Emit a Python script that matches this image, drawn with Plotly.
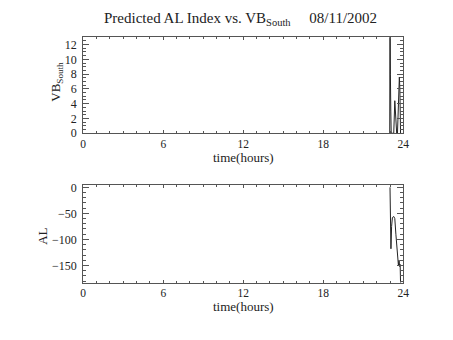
import plotly.graph_objects as go

# VB_South (top panel)
vb_time = [22.98, 23.00, 23.03, 23.06, 23.09, 23.20, 23.28, 23.36, 23.42, 23.50, 23.56, 23.62, 23.70, 23.74, 23.79]
vb_vals = [0, 20, 8, 3, 0, 0, 0, 4.4, 3, 0, 0, 4, 7.6, 6, 0]

# AL index (bottom panel)
al_time = [23.00, 23.03, 23.07, 23.12, 23.18, 23.28, 23.36, 23.44, 23.50, 23.57, 23.63, 23.68, 23.72, 23.76, 23.79]
al_vals = [0, -60, -118, -75, -58, -56, -60, -90, -108, -135, -150, -140, -152, -148, -183]

x_ticks = [0, 6, 12, 18, 24]
vb_ticks = [0, 2, 4, 6, 8, 10, 12]
al_ticks = [0, -50, -100, -150]

FONT = "Liberation Serif"
AX = "#555555"
W, H = 453, 340
OFF = 8  # page body margin


def px(x):
    return (x - OFF) / W


def py(y):
    return 1 - (y - OFF) / H


fig = go.Figure()
fig.add_trace(go.Scatter(x=vb_time, y=vb_vals, mode="lines",
                         line=dict(color="#222222", width=1), xaxis="x", yaxis="y"))
fig.add_trace(go.Scatter(x=al_time, y=al_vals, mode="lines",
                         line=dict(color="#222222", width=1), xaxis="x2", yaxis="y2"))

xd = [px(81.7), px(408.3)]
tf = dict(family=FONT, size=12, color="#222")
tfx = dict(family=FONT, size=11.5, color="#222")
common_x = dict(range=[0, 24], tickvals=x_ticks, ticks="inside", ticklen=3, tickcolor=AX,
                showline=True, linecolor=AX, linewidth=1, mirror="ticks", showgrid=False,
                zeroline=False, domain=xd, tickfont=tfx,
                minor=dict(ticks="inside", ticklen=2, dtick=1, tickcolor=AX, showgrid=False),
                ticklabelstandoff=0)
common_y = dict(ticks="inside", ticklen=6, tickcolor=AX, showline=True, linecolor=AX,
                linewidth=1, mirror="ticks", showgrid=False, zeroline=False,
                tickfont=tf, ticklabelstandoff=3)

fig.update_layout(
    width=W, height=H, margin=dict(l=0, r=0, t=0, b=0),
    paper_bgcolor="white", plot_bgcolor="white", showlegend=False,
    xaxis=dict(**common_x, anchor="y"),
    yaxis=dict(**common_y, range=[0, 13], tickvals=vb_ticks,
               minor=dict(ticks="inside", ticklen=3, dtick=0.5, tickcolor=AX),
               domain=[py(133.3), py(34)], anchor="x"),
    xaxis2=dict(**common_x, anchor="y2"),
    yaxis2=dict(**common_y, range=[-183, 5], tickvals=al_ticks,
                ticktext=["0", "\u221250", "\u2212100", "\u2212150"],
                minor=dict(ticks="inside", ticklen=3, dtick=10, tickcolor=AX),
                domain=[py(287.7), py(186.5)], anchor="x2"),
)

ann_font = dict(family=FONT, size=13, color="#222")
fig.add_annotation(text="Predicted AL Index vs. VB<sub>South</sub>\u00a0\u00a0\u00a0\u00a0\u00a008/11/2002",
                   x=px(242), y=py(27), xref="paper", yref="paper",
                   xanchor="center", yanchor="bottom", showarrow=False,
                   font=dict(family=FONT, size=15, color="#222"))
fig.add_annotation(text="time(hours)", x=px(245), y=py(158.5), xref="paper", yref="paper",
                   xanchor="center", yanchor="middle", showarrow=False, font=ann_font)
fig.add_annotation(text="time(hours)", x=px(245), y=py(312), xref="paper", yref="paper",
                   xanchor="center", yanchor="middle", showarrow=False, font=ann_font)
fig.add_annotation(text="VB<sub>South</sub>", x=px(55), y=py(80), xref="paper", yref="paper",
                   xanchor="center", yanchor="middle", showarrow=False, textangle=-90, font=ann_font)
fig.add_annotation(text="AL", x=px(40), y=py(240), xref="paper", yref="paper",
                   xanchor="center", yanchor="middle", showarrow=False, textangle=-90, font=ann_font)

fig.write_html("out.html")
